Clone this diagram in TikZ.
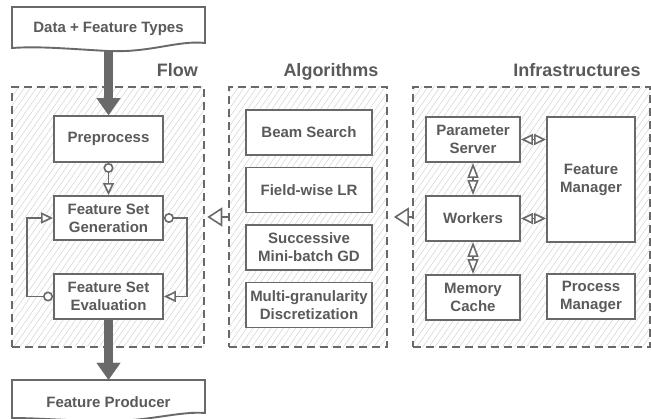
\documentclass[tikz,border=0pt]{standalone}
\usepackage{fontspec}
\setmainfont{Liberation Sans}
\usetikzlibrary{arrows.meta,patterns.meta}
\definecolor{lc}{HTML}{696969}
\definecolor{tc}{HTML}{5A5A5A}
\definecolor{hc}{HTML}{D2D2D2}
\tikzset{
  box/.style={draw=lc, line width=1.9pt, fill=white, text=tc,
    font=\bfseries\fontsize{15}{18}\selectfont, align=center, inner sep=0pt},
  doctext/.style={text=tc, font=\bfseries\fontsize{15}{18}\selectfont, inner sep=0pt},
  docshape/.style={draw=lc, line width=1.9pt, fill=white},
  panel/.style={draw=lc, line width=1.8pt, dash pattern=on 8pt off 5pt,
    pattern={Lines[angle=55,distance=5pt,line width=0.5pt]}, pattern color=hc, inner sep=0pt},
  ttl/.style={text=tc, font=\bfseries\fontsize{18}{21}\selectfont, inner sep=0pt},
  conn/.style={draw=lc, line width=1.6pt},
  bigarrow/.style={draw=lc, line width=9pt, -{Triangle[width=24pt,length=17pt,line width=0.1pt,fill=lc]}},
  panelarrow/.style={conn, -{Triangle[width=19pt,length=15pt,fill=white]}},
  otri/.tip={Triangle[width=11pt,length=12pt,fill=white]},
  htri/.tip={Triangle[width=11pt,length=12pt,fill=white]},
  vtri/.tip={Triangle[width=11pt,length=15pt,fill=white]},
  loopconn/.style={conn, {Circle[length=10pt,width=10pt,fill=white,line width=1.6pt]}-otri},
}
\begin{document}
\begin{tikzpicture}[x=1pt,y=-1pt]
\useasboundingbox (0,0) rectangle (651,419);
% panels
\node[panel, minimum width=192pt, minimum height=260pt] (flowp) at (108,217) {};
\node[panel, minimum width=158pt, minimum height=260pt] (algp) at (308,217) {};
\node[panel, minimum width=237pt, minimum height=260pt] (infp) at (531.5,217) {};
% titles
\node[ttl, anchor=base east] (flowt) at (198,77) {Flow};
\node[ttl, anchor=base] (algt) at (331,77) {Algorithms};
\node[ttl, anchor=base] (inft) at (577,77) {Infrastructures};
% documents
\draw[docshape] (12,7) -- (205,7) -- (205,43) .. controls (178,40) and (150,53) .. (108,51)
  .. controls (70,49) and (40,46) .. (12,48) -- cycle;
\node[doctext, minimum width=193pt, minimum height=43pt] (data) at (108.5,28.5) {Data + Feature Types};
\draw[docshape] (12,380) -- (205,380) -- (205,413) .. controls (180,411) and (150,421) .. (110,421)
  .. controls (70,421) and (40,418) .. (12,418) -- cycle;
\node[doctext, minimum width=193pt, minimum height=44pt] (prod) at (108.5,402) {Feature Producer};
% flow boxes
\node[box, minimum width=109pt, minimum height=46pt] (pre) at (108.5,139) {Preprocess};
\node[box, minimum width=109pt, minimum height=44pt] (gen) at (108.5,218) {Feature Set\\Generation};
\node[box, minimum width=109pt, minimum height=45pt] (eval) at (108.5,296.5) {Feature Set\\Evaluation};
% algorithm boxes
\node[box, minimum width=126pt, minimum height=45pt] (beam) at (309,132.5) {Beam Search};
\node[box, minimum width=126pt, minimum height=45pt] (lr) at (309,190) {Field-wise LR};
\node[box, minimum width=126pt, minimum height=45pt] (gd) at (309,247.5) {Successive\\Mini-batch GD};
\node[box, minimum width=126pt, minimum height=45pt] (disc) at (309,305) {Multi-granularity\\Discretization};
% infrastructure boxes
\node[box, minimum width=94pt, minimum height=45pt] (ps) at (473,139.5) {Parameter\\Server};
\node[box, minimum width=94pt, minimum height=45pt] (wk) at (473,218.5) {Workers};
\node[box, minimum width=94pt, minimum height=45pt] (mc) at (473,297.5) {Memory\\Cache};
\node[box, minimum width=88pt, minimum height=125pt] (fm) at (591,179.5) {Feature\\Manager};
\node[box, minimum width=88pt, minimum height=45pt] (pm) at (591,296.5) {Process\\Manager};
% big arrows
\draw[bigarrow] (data.south) -- (pre.north);
\draw[bigarrow] (eval.south) -- (prod.north);
% flow connectors
\draw[loopconn] (pre.south) -- (gen.north);
\draw[loopconn] (gen.east) -- ++(23,0) |- (eval.east);
\draw[loopconn] (eval.west) -- ++(-26,0) |- (gen.west);
% panel arrows
\draw[panelarrow, shorten >=3pt] (algp.west) -- (flowp.east);
\draw[panelarrow, shorten >=6pt] (infp.west) -- (algp.east);
% infrastructure arrows
\draw[conn, htri-htri] (ps.east) -- (ps.east -| fm.west);
\draw[conn, htri-htri] (wk.east) -- (wk.east -| fm.west);
\draw[conn, vtri-vtri] (ps.south) -- (wk.north);
\draw[conn, vtri-vtri] (wk.south) -- (mc.north);
\end{tikzpicture}
\end{document}
